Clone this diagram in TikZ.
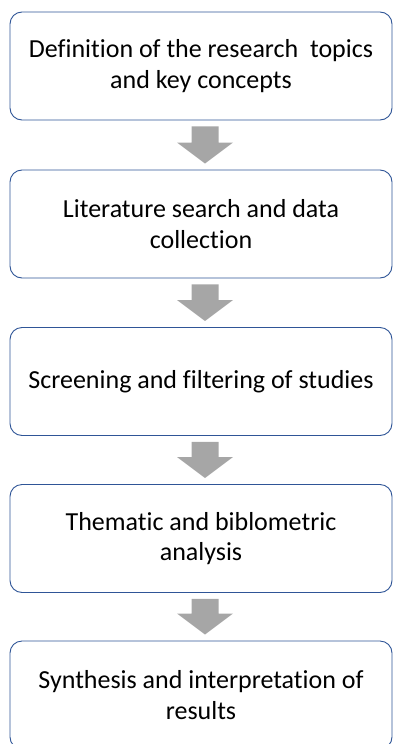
\documentclass[tikz,border=0pt]{standalone}
\usepackage{fontspec}
\setmainfont{Carlito}[Ligatures={NoCommon}]
\usetikzlibrary{calc}
\definecolor{boxline}{RGB}{47,85,151}
\definecolor{arrowgray}{RGB}{166,166,166}
\tikzset{
  stepbox/.style={draw=boxline, line width=0.9pt, fill=white, rounded corners=12pt,
    minimum width=382pt, minimum height=108pt, inner sep=0pt, align=center,
    font=\fontsize{26}{30.5}\selectfont, text=black},
  flowarrow/.style={fill=arrowgray, draw=none}
}
\newcommand{\flowarr}[2]{%
  \path[flowarrow] let \p1=(#1.south), \p2=(#2.north) in
    ({\x1-9.5pt},{\y1-6pt}) -- ({\x1+17.5pt},{\y1-6pt}) -- ({\x1+17.5pt},{\y2+27pt})
    -- ({\x1+32pt},{\y2+27pt}) -- ({\x1+4pt},{\y2+6pt}) -- ({\x1-24pt},{\y2+27pt})
    -- ({\x1-9.5pt},{\y2+27pt}) -- cycle;}
\begin{document}
\begin{tikzpicture}[x=1pt,y=-1pt]
\useasboundingbox (0,0) rectangle (393,744);
\clip (0,0) rectangle (393,744);
\node[stepbox] (b1) at (201,66) {Definition of the research\ \ topics\\and key concepts};
\node[stepbox] (b2) at (201,224) {Literature search and data\\collection};
\node[stepbox] (b3) at (201,381.5) {Screening and filtering of studies};
\node[stepbox] (b4) at (201,538.5) {Thematic and biblometric\\analysis};
\node[stepbox] (b5) at (201,695) {Synthesis and interpretation of\\results};
\flowarr{b1}{b2}
\flowarr{b2}{b3}
\flowarr{b3}{b4}
\flowarr{b4}{b5}
\end{tikzpicture}
\end{document}
